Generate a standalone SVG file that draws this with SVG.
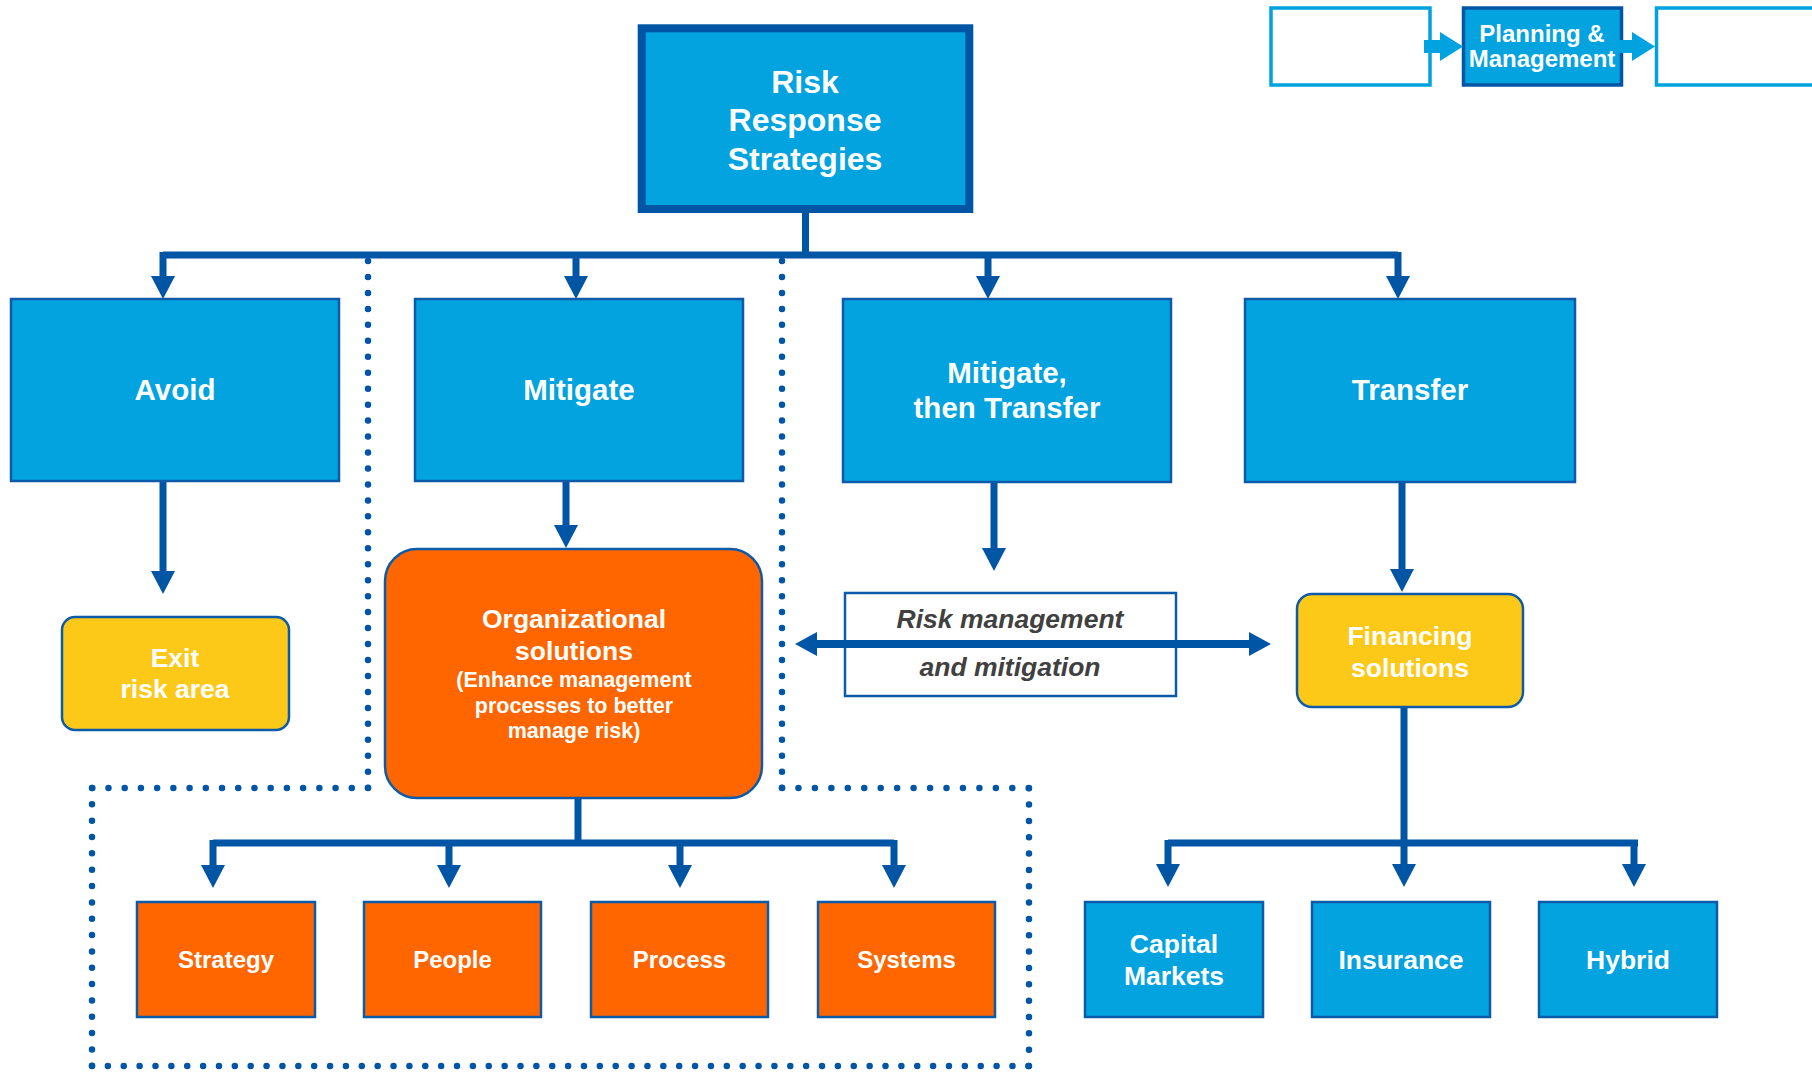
<svg xmlns="http://www.w3.org/2000/svg" width="1812" height="1075" viewBox="0 0 1812 1075">
<style>
.t{font-family:"Liberation Sans",Arial,sans-serif;font-weight:bold;fill:#ffffff;text-anchor:middle}
.blue{fill:#02a3df;stroke:#0d5ba8;stroke-width:2.5}
.orange{fill:#ff6600;stroke:#0d5ba8;stroke-width:2.5}
.yellow{fill:#fcc918;stroke:#0d5ba8;stroke-width:2.5}
.ln{fill:none;stroke:#0055a5;stroke-width:7}
.ah{fill:#0055a5}
.dot{fill:none;stroke:#0055a5;stroke-width:6.5;stroke-linecap:round}
.it{font-family:"Liberation Sans",Arial,sans-serif;font-weight:bold;font-style:italic;fill:#404040;text-anchor:middle;font-size:26.5px}
</style>
<defs>
<path id="dn" d="M-12,0 L12,0 L0,23 Z"/>
</defs>
<rect width="1812" height="1075" fill="#ffffff"/>

<g id="dotted-boundary">
<path class="dot" stroke-dasharray="0 15.96" d="M368,261 V788"/>
<path class="dot" stroke-dasharray="0 16.22" d="M368,788 H92"/>
<path class="dot" stroke-dasharray="0 16.34" d="M92,788 V1066"/>
<path class="dot" stroke-dasharray="0 15.87" d="M92,1066 H1029"/>
<path class="dot" stroke-dasharray="0 16.34" d="M1029,1066 V788"/>
<path class="dot" stroke-dasharray="0 16.45" d="M782,788 H1029"/>
<path class="dot" stroke-dasharray="0 15.96" d="M782,261 V788"/>
</g>

<g id="connectors">
<path class="ln" d="M805.5,213 V255"/>
<path class="ln" d="M163,255 H1398"/>
<path class="ln" d="M163,252 V278 M576,255 V278 M988,255 V278 M1398,252 V278"/>
<use href="#dn" class="ah" x="163" y="276"/>
<use href="#dn" class="ah" x="576" y="276"/>
<use href="#dn" class="ah" x="988" y="276"/>
<use href="#dn" class="ah" x="1398" y="276"/>
<path class="ln" d="M163,481 V572"/>
<use href="#dn" class="ah" x="163" y="571"/>
<path class="ln" d="M566,481 V526"/>
<use href="#dn" class="ah" x="566" y="525"/>
<path class="ln" d="M994,482 V549"/>
<use href="#dn" class="ah" x="994" y="548"/>
<path class="ln" d="M1402,482 V570"/>
<use href="#dn" class="ah" x="1402" y="569"/>
<path class="ln" d="M578,798 V843"/>
<path class="ln" d="M213,843 H894"/>
<path class="ln" d="M213,840 V866 M449,843 V866 M680,843 V866 M894,840 V866"/>
<use href="#dn" class="ah" x="213" y="865"/>
<use href="#dn" class="ah" x="449" y="865"/>
<use href="#dn" class="ah" x="680" y="865"/>
<use href="#dn" class="ah" x="894" y="865"/>
<path class="ln" d="M1404,707 V843"/>
<path class="ln" d="M1168,843 H1638"/>
<path class="ln" d="M1168,840 V865 M1404,843 V865 M1634,840 V865"/>
<use href="#dn" class="ah" x="1168" y="864"/>
<use href="#dn" class="ah" x="1404" y="864"/>
<use href="#dn" class="ah" x="1634" y="864"/>
</g>

<g id="top-right-process">
<rect x="1271" y="8" width="159" height="77" fill="#ffffff" stroke="#00a3e0" stroke-width="3.5"/>
<rect x="1463.5" y="8" width="158" height="77" fill="#02a3df" stroke="#0055a5" stroke-width="3.5"/>
<rect x="1656.5" y="8" width="180" height="77" fill="#ffffff" stroke="#00a3e0" stroke-width="3.5"/>
<path d="M1424,40 H1440 V32 L1463,46.5 L1440,61 V53 H1424 Z" fill="#00a3e0"/>
<path d="M1619,40 H1632 V32 L1655,46.5 L1632,61 V53 H1619 Z" fill="#00a3e0"/>
<text class="t" font-size="24" x="1542" y="42">Planning &amp;</text>
<text class="t" font-size="24" x="1542" y="67">Management</text>
</g>

<g id="risk-response">
<rect x="641.7" y="28.3" width="327.6" height="180.7" fill="#02a3df" stroke="#0055a5" stroke-width="8"/>
<text class="t" font-size="32" x="805" y="93">Risk</text>
<text class="t" font-size="32" x="805" y="131">Response</text>
<text class="t" font-size="32" x="805" y="170">Strategies</text>
</g>

<g id="avoid">
<rect class="blue" x="11" y="299" width="328" height="182"/>
<text class="t" font-size="29.5" x="175" y="400">Avoid</text>
</g>
<g id="mitigate">
<rect class="blue" x="415" y="299" width="328" height="182"/>
<text class="t" font-size="29.5" x="579" y="400">Mitigate</text>
</g>
<g id="mitigate-transfer">
<rect class="blue" x="843" y="299" width="328" height="183"/>
<text class="t" font-size="29.5" x="1007" y="383">Mitigate,</text>
<text class="t" font-size="29.5" x="1007" y="418">then Transfer</text>
</g>
<g id="transfer">
<rect class="blue" x="1245" y="299" width="330" height="183"/>
<text class="t" font-size="29.5" x="1410" y="400">Transfer</text>
</g>

<g id="exit">
<rect class="yellow" x="62" y="617" width="227" height="113" rx="13"/>
<text class="t" font-size="26.5" x="175" y="667">Exit</text>
<text class="t" font-size="26.5" x="175" y="698">risk area</text>
</g>

<g id="org-solutions">
<rect class="orange" x="385" y="549" width="377" height="249" rx="32"/>
<text class="t" font-size="26.5" x="574" y="628">Organizational</text>
<text class="t" font-size="26.5" x="574" y="660">solutions</text>
<text class="t" font-size="21.5" x="574" y="687">(Enhance management</text>
<text class="t" font-size="21.5" x="574" y="713">processes to better</text>
<text class="t" font-size="21.5" x="574" y="738">manage risk)</text>
</g>

<g id="risk-mgmt">
<rect x="845" y="593" width="331" height="103" fill="#ffffff" stroke="#0d5ba8" stroke-width="2.5"/>
<text class="it" x="1010" y="628">Risk management</text>
<text class="it" x="1010" y="676">and mitigation</text>
</g>

<g id="double-arrow">
<path d="M817,640 H1249 V632 L1271,644 L1249,656 V648 H817 V656 L795,644 L817,632 Z" fill="#0055a5"/>
</g>

<g id="financing">
<rect class="yellow" x="1297" y="594" width="226" height="113" rx="15"/>
<text class="t" font-size="26.5" x="1410" y="645">Financing</text>
<text class="t" font-size="26.5" x="1410" y="677">solutions</text>
</g>

<g id="strategy">
<rect class="orange" x="137" y="902" width="178" height="115"/>
<text class="t" font-size="24" x="226" y="968">Strategy</text>
</g>
<g id="people">
<rect class="orange" x="364" y="902" width="177" height="115"/>
<text class="t" font-size="24" x="452.5" y="968">People</text>
</g>
<g id="process">
<rect class="orange" x="591" y="902" width="177" height="115"/>
<text class="t" font-size="24" x="679.5" y="968">Process</text>
</g>
<g id="systems">
<rect class="orange" x="818" y="902" width="177" height="115"/>
<text class="t" font-size="24" x="906.5" y="968">Systems</text>
</g>

<g id="capital-markets">
<rect class="blue" x="1085" y="902" width="178" height="115"/>
<text class="t" font-size="26.5" x="1174" y="953">Capital</text>
<text class="t" font-size="26.5" x="1174" y="985">Markets</text>
</g>
<g id="insurance">
<rect class="blue" x="1312" y="902" width="178" height="115"/>
<text class="t" font-size="26.5" x="1401" y="969">Insurance</text>
</g>
<g id="hybrid">
<rect class="blue" x="1539" y="902" width="178" height="115"/>
<text class="t" font-size="26.5" x="1628" y="969">Hybrid</text>
</g>
</svg>
